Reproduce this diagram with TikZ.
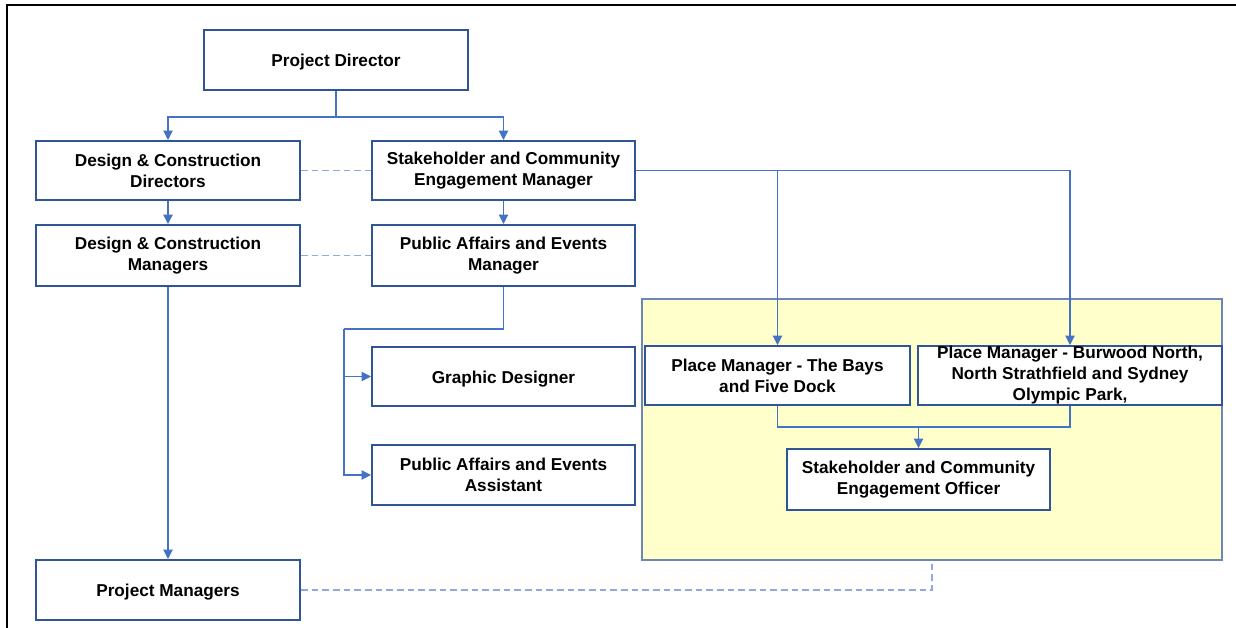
\documentclass[tikz,border=0pt]{standalone}
\usepackage{fontspec}
\setmainfont{Liberation Sans}
\usetikzlibrary{arrows.meta}
\definecolor{boxblue}{HTML}{2F5597}
\definecolor{linkblue}{HTML}{4472C4}
\definecolor{dashblue}{HTML}{8FAADC}
\definecolor{paleyellow}{HTML}{FFFFCC}
\definecolor{yelborder}{HTML}{6C87B5}
\tikzset{
  rolebox/.style={draw=boxblue, line width=1.5pt, fill=white, inner sep=0pt, align=center,
    font=\fontsize{12.9}{15.75}\selectfont\bfseries,
    execute at begin node={\rule{0pt}{12.5pt}}},
  conn/.style={draw=linkblue, line width=0.8pt},
  arr/.style={conn, -{Triangle[length=7pt,width=7pt]}},
  dashlink/.style={draw=dashblue, line width=1pt, dash pattern=on 5pt off 3pt},
}
\begin{document}
\begin{tikzpicture}[x=0.75pt,y=-0.75pt]
\useasboundingbox (0,0) rectangle (1236,628);
\fill[white] (0,0) rectangle (1236,628);
% outer frame
\draw[black, line width=1.6pt] (7,628) -- (7,5) -- (1236,5);
% yellow area
\node[draw=yelborder, line width=1.5pt, fill=paleyellow, minimum width=435pt, minimum height=195.75pt, inner sep=0pt] (yel) at (932,429.5) {};
% boxes
\node[rolebox, minimum width=198pt, minimum height=45pt] (PD) at (336,60) {Project Director};
\node[rolebox, minimum width=198pt, minimum height=44.25pt] (DCD) at (168,170.5) {Design \& Construction\\Directors};
\node[rolebox, minimum width=197.25pt, minimum height=44.25pt] (SCEM) at (503.5,170.5) {Stakeholder and Community\\Engagement Manager};
\node[rolebox, minimum width=198pt, minimum height=45.75pt] (DCM) at (168,255.5) {Design \& Construction\\Managers};
\node[rolebox, minimum width=197.25pt, minimum height=45.75pt] (PAEM) at (503.5,255.5) {Public Affairs and Events\\Manager};
\node[rolebox, minimum width=197.25pt, minimum height=44.25pt] (GD) at (503.5,376.5) {Graphic Designer};
\node[rolebox, minimum width=197.25pt, minimum height=45pt] (PAEA) at (503.5,475) {Public Affairs and Events\\Assistant};
\node[rolebox, minimum width=198pt, minimum height=45pt] (PM) at (168,590) {Project Managers};
\node[rolebox, minimum width=198.75pt, minimum height=44.25pt] (PMB) at (777.5,375.5) {Place Manager - The Bays\\and Five Dock};
\node[rolebox, minimum width=228pt, minimum height=44.25pt] (PMBur) at (1070,375.5) {Place Manager - Burwood North,\\North Strathfield and Sydney\\Olympic Park,};
\node[rolebox, minimum width=197.25pt, minimum height=45.75pt] (SCEO) at (918.5,479.5) {Stakeholder and Community\\Engagement Officer};
% junctions
\coordinate (j1) at (336,117);
\coordinate (j2) at (503.5,329);
\coordinate (j3) at (344,329);
\coordinate (j4) at (918.5,427);
% connectors
\draw[conn] (PD.south) -- (j1);
\draw[arr] (j1) -| (DCD.north);
\draw[arr] (j1) -| (SCEM.north);
\draw[arr] (DCD.south) -- (DCM.north);
\draw[arr] (SCEM.south) -- (PAEM.north);
\draw[arr] (DCM.south) -- (PM.north);
\draw[conn] (PAEM.south) -- (j2) -- (j3);
\draw[arr] (j3) |- (GD.west);
\draw[arr] (j3) |- (PAEA.west);
\draw[arr] (SCEM.east) -| (PMB.north);
\draw[arr] (SCEM.east) -| (PMBur.north);
\draw[conn] (PMB.south) |- (j4);
\draw[conn] (PMBur.south) |- (j4);
\draw[arr] (j4) -- (SCEO.north);
% dashed links
\draw[dashlink] (DCD.east) -- (SCEM.west);
\draw[dashlink] (DCM.east) -- (PAEM.west);
\draw[dashlink] (PM.east) -| (yel.south);
\end{tikzpicture}
\end{document}
